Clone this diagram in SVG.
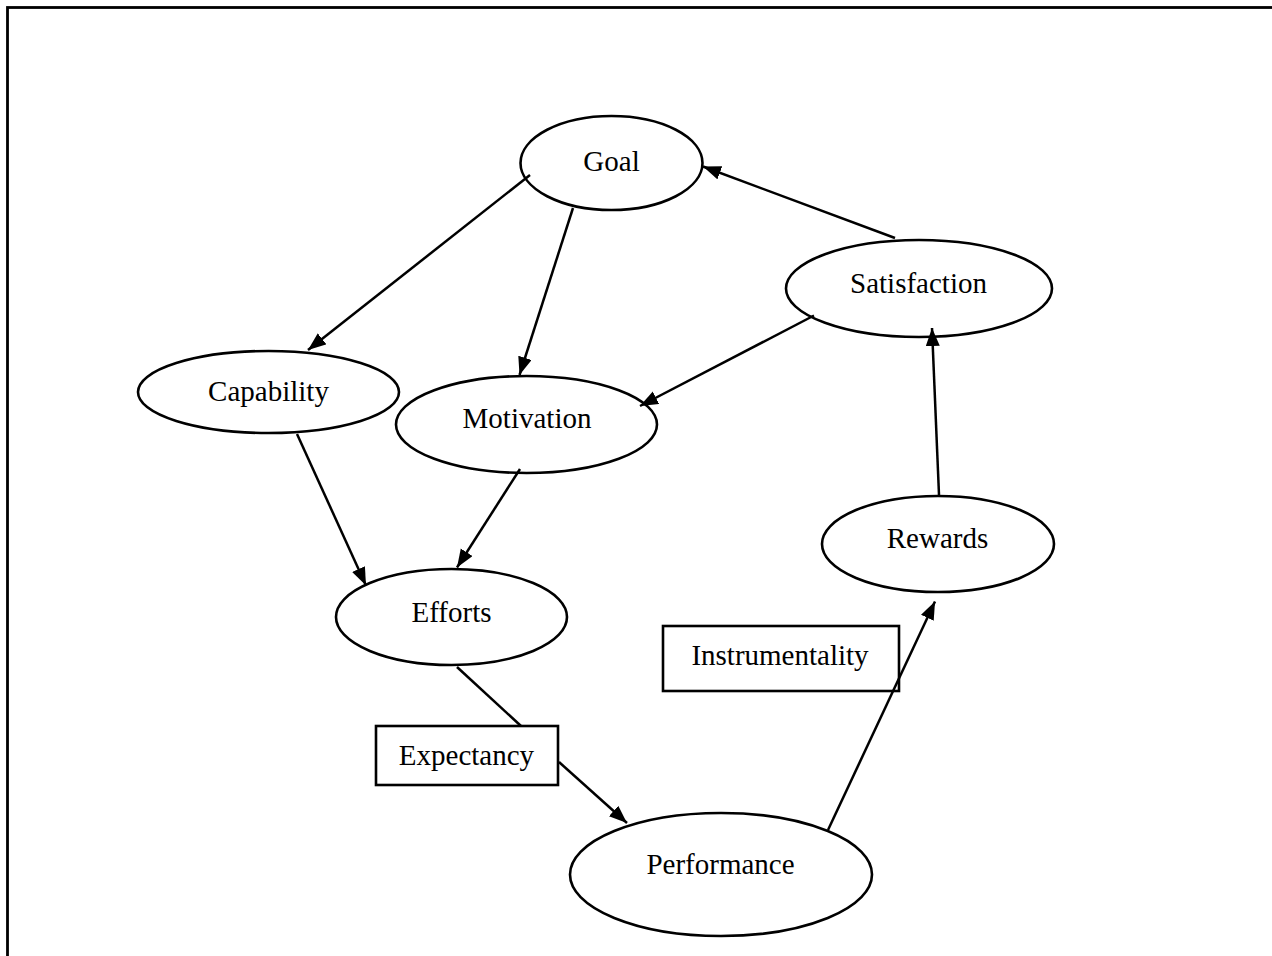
<svg xmlns="http://www.w3.org/2000/svg" width="1272" height="956" viewBox="0 0 1272 956">
<style>
  .node ellipse, .node rect { fill: #ffffff; stroke: #000000; stroke-width: 2.6; }
  .node text { font-family: "Liberation Serif", "Times New Roman", serif; font-size: 29px; fill: #000000; text-anchor: middle; }
  .edge { stroke: #000000; stroke-width: 2.5; fill: none; }
  .arrow { marker-end: url(#ah); }
</style>
<defs>
  <marker id="ah" markerUnits="userSpaceOnUse" markerWidth="20" markerHeight="16" refX="18" refY="7" orient="auto">
    <path d="M0,0 L18,7 L0,14 z" fill="#000000"/>
  </marker>
</defs>
<rect x="0" y="0" width="1272" height="956" fill="#ffffff"/>
<rect x="7.5" y="7.5" width="1300" height="1000" fill="none" stroke="#000000" stroke-width="2.8"/>

<g id="goal" class="node">
  <ellipse cx="611.5" cy="163" rx="91" ry="47"/>
  <text x="611.5" y="170.5">Goal</text>
</g>
<g id="satisfaction" class="node">
  <ellipse cx="919" cy="288.5" rx="133" ry="48.5"/>
  <text x="918.5" y="292.5">Satisfaction</text>
</g>
<g id="capability" class="node">
  <ellipse cx="268.5" cy="392" rx="130.5" ry="41"/>
  <text x="268.5" y="400.5">Capability</text>
</g>
<g id="motivation" class="node">
  <ellipse cx="526.5" cy="424.5" rx="130.5" ry="48.5"/>
  <text x="527" y="428">Motivation</text>
</g>
<g id="efforts" class="node">
  <ellipse cx="451.5" cy="617" rx="115.5" ry="48"/>
  <text x="451.5" y="621.5">Efforts</text>
</g>
<g id="rewards" class="node">
  <ellipse cx="938" cy="544" rx="116" ry="48"/>
  <text x="937.5" y="548">Rewards</text>
</g>
<g id="instrumentality" class="node">
  <rect x="663" y="626" width="236" height="65"/>
  <text x="780" y="665">Instrumentality</text>
</g>
<g id="expectancy" class="node">
  <rect x="376" y="726" width="182" height="59"/>
  <text x="466.5" y="765">Expectancy</text>
</g>
<g id="performance" class="node">
  <ellipse cx="721" cy="874.5" rx="151" ry="61.5"/>
  <text x="720.5" y="874">Performance</text>
</g>

<g id="connectors">
  <line class="edge arrow" x1="895" y1="238" x2="703" y2="166.5"/>
  <line class="edge arrow" x1="530" y1="175" x2="308" y2="350"/>
  <line class="edge arrow" x1="573" y1="208" x2="519.5" y2="375"/>
  <line class="edge arrow" x1="814" y1="315.5" x2="640" y2="406"/>
  <line class="edge arrow" x1="297" y1="434" x2="366" y2="585.5"/>
  <line class="edge arrow" x1="520" y1="469" x2="457" y2="567.5"/>
  <line class="edge" x1="457" y1="667" x2="521" y2="726"/>
  <line class="edge arrow" x1="559" y1="762" x2="627" y2="823"/>
  <line class="edge arrow" x1="828" y1="830" x2="935" y2="601.5"/>
  <line class="edge arrow" x1="939" y1="495" x2="932" y2="328"/>
</g>
</svg>
